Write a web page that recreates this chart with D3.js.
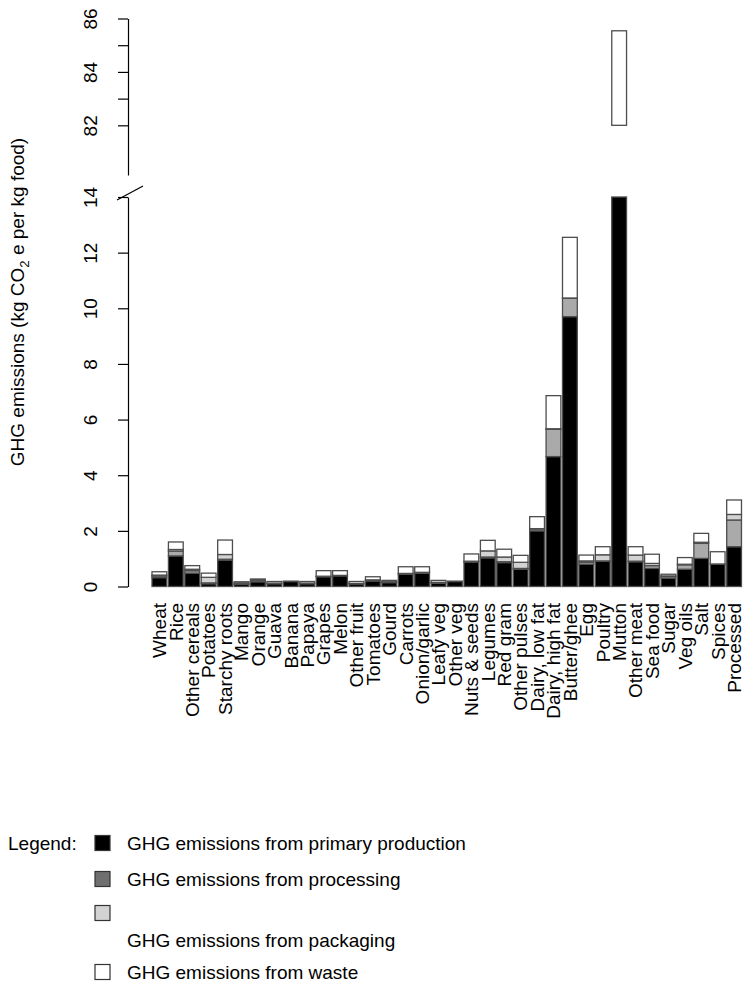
<!DOCTYPE html>
<html><head><meta charset="utf-8">
<script src="https://cdn.jsdelivr.net/npm/d3@7"></script>
<style>
html,body{margin:0;padding:0;background:#fff;}
svg{display:block;font-family:"Liberation Sans",Arial,sans-serif;}
</style></head>
<body><svg id="c" width="753" height="986"></svg>
<script>
const categories = ["Wheat","Rice","Other cereals","Potatoes","Starchy roots","Mango","Orange","Guava","Banana","Papaya","Grapes","Melon","Other fruit","Tomatoes","Gourd","Carrots","Onion/garlic","Leafy veg","Other veg","Nuts & seeds","Legumes","Red gram","Other pulses","Dairy, low fat","Dairy, high fat","Butter/ghee","Egg","Poultry","Mutton","Other meat","Sea food","Sugar","Veg oils","Salt","Spices","Processed"];
const primary    = [0.32,1.10,0.48,0.10,0.95,0.08,0.17,0.10,0.18,0.10,0.35,0.38,0.09,0.20,0.14,0.44,0.48,0.12,0.18,0.88,1.03,0.86,0.62,2.00,4.67,9.70,0.80,0.91,80.0,0.89,0.65,0.30,0.62,1.01,0.80,1.43];
const processing = [0.06,0.17,0.09,0.03,0.03,0.01,0.05,0,0,0,0,0,0,0.01,0,0,0,0,0,0,0.03,0.03,0.03,0.07,0.98,0.66,0.07,0.01,0,0.02,0.10,0.06,0.16,0.54,0,0.96];
const packaging  = [0.03,0.06,0.05,0.20,0.17,0.03,0.01,0.02,0,0.02,0.02,0.02,0.02,0.03,0.03,0.03,0.03,0.03,0,0.03,0.22,0.17,0.22,0.01,0.02,0.01,0.05,0.22,0,0.22,0.08,0.02,0.02,0.04,0.01,0.20];
const waste      = [0.12,0.27,0.13,0.15,0.52,0.05,0.04,0.06,0.01,0.06,0.20,0.17,0.07,0.11,0.05,0.24,0.20,0.07,0.01,0.26,0.38,0.28,0.25,0.43,1.19,2.18,0.21,0.29,5.54,0.30,0.33,0.06,0.24,0.32,0.44,0.52];
const seriesKeys = ["primary","processing","packaging","waste"];
const legendLabels = ["GHG emissions from primary production","GHG emissions from processing","GHG emissions from packaging","GHG emissions from waste"];
const lowerTicks = [0,2,4,6,8,10,12,14];
const upperTicks = [82,83,84,85,86];
const upperLabels = [82,84,86];

const barFill = {primary:"#000000",processing:"#aaaaaa",packaging:"#d3d3d3",waste:"#ffffff"};
const legFill = {primary:"#000000",processing:"#6f6f6f",packaging:"#d3d3d3",waste:"#ffffff"};

const rows = categories.map((c,i)=>({cat:c,primary:primary[i],processing:processing[i],packaging:packaging[i],waste:waste[i]}));
const stacked = d3.stack().keys(seriesKeys)(rows);

const svg = d3.select("#c");
const FS = 19;
const axisX = 128;

const x = d3.scaleBand().domain(categories).range([152, 152+35.9*16.42]).paddingInner(0.1).paddingOuter(0);
const yLow = d3.scaleLinear().domain([0,14]).range([586.5,197]);
const yUp = d3.scaleLinear().domain([80.14,86]).range([175,18.5]);
const lowMax = 14, upMin = 82, upMax = 86;

// bars
const gBars = svg.append("g");
stacked.forEach(layer=>{
  const key = layer.key;
  layer.forEach(seg=>{
    const d0 = seg[0], d1 = seg[1];
    if (d1 - d0 <= 0) return;
    const cat = seg.data.cat;
    if (d0 < lowMax) {
      const top = Math.min(d1, lowMax);
      gBars.append("rect")
        .attr("x", x(cat)).attr("width", x.bandwidth())
        .attr("y", yLow(top)).attr("height", yLow(d0)-yLow(top))
        .attr("fill", barFill[key]).attr("stroke","#4d4d4d").attr("stroke-width",1.3);
    }
    if (d1 > upMin) {
      const bot = Math.max(d0, upMin), top = Math.min(d1, upMax);
      gBars.append("rect")
        .attr("x", x(cat)).attr("width", x.bandwidth())
        .attr("y", yUp(top)).attr("height", yUp(bot)-yUp(top))
        .attr("fill", barFill[key]).attr("stroke","#4d4d4d").attr("stroke-width",1.3);
    }
  });
});

// axes
function styleAxis(g, labelSet){
  g.selectAll("path.domain").attr("stroke","#000").attr("stroke-width",1.2);
  g.selectAll(".tick line").attr("stroke","#000").attr("stroke-width",1.2);
  g.selectAll(".tick text")
    .attr("x",0).attr("y",0).attr("dy",null)
    .attr("transform","translate(-31,0) rotate(-90)")
    .attr("text-anchor","middle")
    .attr("font-size",FS).attr("fill","#000")
    .text(d => labelSet ? (labelSet.includes(d) ? d : "") : d);
}
const gLow = svg.append("g").attr("transform",`translate(${axisX},0)`)
  .call(d3.axisLeft(yLow).tickValues(lowerTicks).tickSize(10).tickSizeOuter(0));
styleAxis(gLow, null);
const gUp = svg.append("g").attr("transform",`translate(${axisX},0)`)
  .call(d3.axisLeft(yUp).tickValues(upperTicks).tickSize(10).tickSizeOuter(0));
styleAxis(gUp, upperLabels);
gLow.attr("font-family",null); gUp.attr("font-family",null);

// break slash
svg.append("line").attr("x1",117).attr("y1",200).attr("x2",143).attr("y2",186)
  .attr("stroke","#000").attr("stroke-width",1.2);

// x labels
const gX = svg.append("g").attr("transform","translate(0,603)")
  .call(d3.axisBottom(x).tickSize(0).tickSizeOuter(0));
gX.attr("font-family",null);
gX.select("path.domain").remove();
gX.selectAll(".tick text")
  .attr("x",0).attr("y",0).attr("dy","0.36em")
  .attr("transform","rotate(-90)")
  .attr("text-anchor","end")
  .attr("font-size",FS).attr("fill","#000");

// y title
const title = svg.append("text")
  .attr("transform","translate(24,302) rotate(-90)")
  .attr("text-anchor","middle").attr("font-size",FS).attr("fill","#000");
title.append("tspan").text("GHG emissions (kg CO");
title.append("tspan").attr("font-size",FS*0.7).attr("dy",5).text("2");
title.append("tspan").attr("dy",-5).text(" e per kg food)");

// legend
const legRows = [
  {key:"primary", sy:843, ty:843},
  {key:"processing", sy:879, ty:879},
  {key:"packaging", sy:913, ty:940},
  {key:"waste", sy:972, ty:972}
];
const gL = svg.append("g");
gL.append("text").attr("x",8).attr("y",843).attr("dy","0.35em").attr("font-size",FS).text("Legend:");
legRows.forEach((r,i)=>{
  gL.append("rect").attr("x",95).attr("y",r.sy-7.5).attr("width",15).attr("height",15)
    .attr("fill",legFill[r.key]).attr("stroke","#333").attr("stroke-width",1.2);
  gL.append("text").attr("x",127).attr("y",r.ty).attr("dy","0.35em")
    .attr("font-size",FS).attr("fill","#000").text(legendLabels[i]);
});
</script></body></html>
